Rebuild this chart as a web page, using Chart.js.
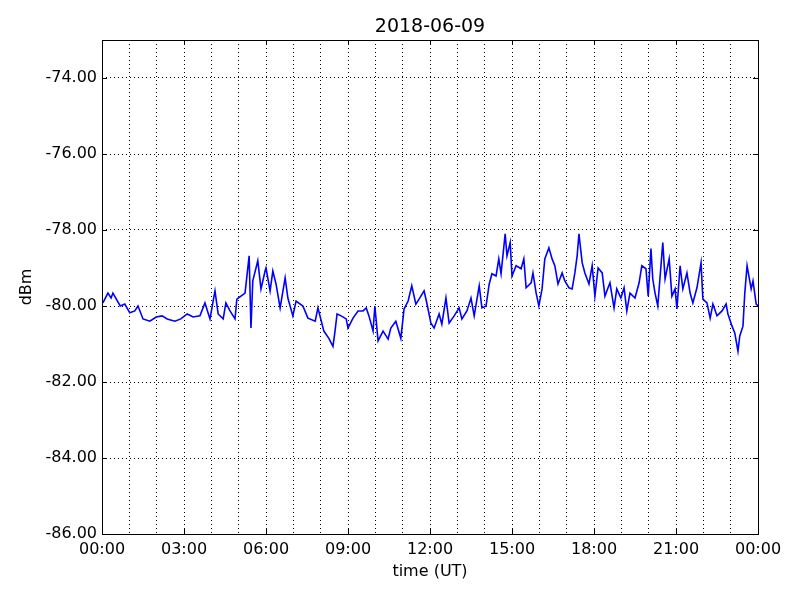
<!DOCTYPE html>
<html>
<head>
<meta charset="utf-8">
<script src="https://cdn.jsdelivr.net/npm/chart.js@4"></script>
<style>
  body { margin: 0; background: #fff; }
  canvas { display: block; }
</style>
</head>
<body>
<canvas id="signalChart" width="800" height="600"></canvas>
<script>
// values (minutes after 00:00 UT, dBm)
const chartTitle = '2018-06-09';
const minutes = [
  2, 13, 20, 24, 40, 50, 61, 72, 79, 90, 105, 119, 132, 143, 160, 173, 187, 200, 215, 226, 237,
  244, 248, 255, 266, 272, 281, 292, 296, 305, 314, 323, 327, 331, 342, 349, 358, 360, 369, 375,
  382, 391, 402, 408, 419, 426, 441, 452, 468, 474,
  487, 498, 507, 511, 516, 525, 536, 540, 551, 562, 573, 580, 586, 595, 599, 606, 617, 628, 634,
  645, 656, 663, 672, 680, 689, 696, 707,
  713, 722, 729, 740, 746, 755, 762, 773, 784, 790, 801, 810, 817, 828, 834, 843, 850, 856, 865,
  871, 876, 885, 889, 896, 900, 909, 920, 926, 931, 942, 946, 953,
  959, 966, 972, 977, 981, 988, 994, 1001, 1010, 1016, 1025, 1032, 1038, 1043, 1047, 1054, 1060,
  1069, 1076, 1082, 1089, 1098, 1104, 1115, 1124, 1130, 1139, 1146, 1152, 1159, 1170, 1179,
  1185, 1194, 1199, 1205, 1209, 1214, 1220, 1227, 1231, 1236, 1245, 1251, 1258, 1262, 1269, 1275,
  1284, 1291, 1297, 1306, 1315, 1319, 1328, 1335, 1341, 1350, 1361, 1370, 1374, 1383, 1389, 1396,
  1400, 1407, 1411, 1416, 1425, 1429, 1436, 1440
];
const dbm = [
  -79.92, -79.66, -79.79, -79.66, -80.00, -79.95, -80.18, -80.13, -80.00, -80.34, -80.40, -80.29,
  -80.26, -80.34, -80.40, -80.34, -80.21, -80.29, -80.26, -79.92, -80.34,
  -79.87, -79.60, -80.21, -80.34, -79.92, -80.13, -80.34, -79.82, -79.74, -79.66, -78.68, -80.58,
  -79.34, -78.81, -79.55, -79.08, -79.00, -79.60, -79.08, -79.42, -80.05, -79.26, -79.79, -80.26,
  -79.87, -80.00, -80.32, -80.40, -80.05,
  -80.66, -80.85, -81.06, -80.71, -80.21, -80.26, -80.34, -80.58, -80.32, -80.13, -80.13, -80.05,
  -80.26, -80.66, -80.00, -80.92, -80.66, -80.87, -80.58, -80.40, -80.85, -80.08, -79.87, -79.47,
  -79.95, -79.82, -79.60,
  -79.92, -80.45, -80.58, -80.21, -80.48, -79.79, -80.45, -80.26, -80.05, -80.34, -80.13, -79.79,
  -80.26, -79.47, -80.05, -80.00, -79.42, -79.15, -79.21, -78.76, -79.15, -78.10, -78.68, -78.33,
  -79.21, -78.94, -79.02, -78.76, -79.52, -79.39, -79.13, -79.66,
  -80.00, -79.55, -78.76, -78.60, -78.47, -78.76, -78.94, -79.42, -79.13, -79.34, -79.52, -79.55,
  -79.13, -78.68, -78.10, -78.86, -79.13, -79.42, -78.94, -79.74, -79.00, -79.13, -79.74, -79.39,
  -80.05, -79.55, -79.79, -79.52, -80.13, -79.66, -79.79, -79.39,
  -78.94, -79.02, -79.74, -78.49, -79.29, -79.66, -80.00, -78.94, -78.33, -79.29, -78.76, -79.74,
  -79.55, -80.08, -78.94, -79.55, -79.13, -79.66, -79.92, -79.52, -78.86, -79.82, -79.92, -80.32,
  -79.95, -80.26, -80.13, -79.95, -80.21, -80.53, -80.71, -81.19, -80.79, -80.53, -79.66, -78.94,
  -79.55, -79.34, -79.95, -80.00
];
const yTicks = [-86, -84, -82, -80, -78, -76, -74];

const FONT = 'DejaVu Sans';

function hhmm(m) {
  const h = Math.floor(m / 60) % 24;
  const mm = m % 60;
  return String(h).padStart(2, '0') + ':' + String(mm).padStart(2, '0');
}

// box, inward ticks and title in matplotlib "classic" look
const framePlugin = {
  id: 'frame',
  afterDraw(chart) {
    const { ctx, chartArea: a, scales } = chart;
    ctx.save();
    ctx.strokeStyle = '#000';
    ctx.lineWidth = 1;
    ctx.strokeRect(Math.round(a.left) + 0.5, Math.round(a.top) + 0.5,
      Math.round(a.right - a.left), Math.round(a.bottom - a.top));
    ctx.beginPath();
    yTicks.forEach(v => {
      const y = Math.round(scales.y.getPixelForValue(v)) + 0.5;
      ctx.moveTo(a.left, y); ctx.lineTo(a.left + 5, y);
      ctx.moveTo(a.right, y); ctx.lineTo(a.right - 5, y);
    });
    for (let m = 0; m <= 1440; m += 180) {
      const x = Math.round(scales.x.getPixelForValue(m)) + 0.5;
      ctx.moveTo(x, a.bottom); ctx.lineTo(x, a.bottom - 5);
      ctx.moveTo(x, a.top); ctx.lineTo(x, a.top + 5);
    }
    ctx.stroke();
    ctx.fillStyle = '#000';
    ctx.font = '19px "' + FONT + '"';
    ctx.textAlign = 'center';
    ctx.textBaseline = 'middle';
    ctx.fillText(chartTitle, (a.left + a.right) / 2, 27);
    ctx.restore();
  }
};

const points = minutes.map((m, i) => ({ x: m, y: dbm[i] }));

new Chart(document.getElementById('signalChart'), {
  type: 'line',
  data: {
    datasets: [{
      data: points,
      borderColor: '#0000ff',
      borderWidth: 1.6,
      pointRadius: 0,
      tension: 0,
      fill: false
    }]
  },
  options: {
    responsive: false,
    animation: false,
    layout: { padding: { top: 40, right: 42, left: 0, bottom: 0 } },
    plugins: { legend: { display: false }, tooltip: { enabled: false }, title: { display: false } },
    scales: {
      x: {
        type: 'linear',
        min: 0,
        max: 1440,
        afterFit(s) { s.height = 66; },
        grid: { color: '#000', lineWidth: 1, drawTicks: false },
        border: { display: false, dash: [1, 3] },
        ticks: {
          stepSize: 60,
          autoSkip: false,
          maxRotation: 0,
          padding: 6,
          color: '#000',
          font: { family: FONT, size: 16 },
          callback: v => (v % 180 === 0 ? hhmm(v) : '')
        },
        title: {
          display: true,
          text: 'time (UT)',
          color: '#000',
          font: { family: FONT, size: 16 },
          padding: { top: 0, bottom: 19 }
        }
      },
      y: {
        min: -86,
        max: -73,
        afterFit(s) { s.width = 102; },
        afterBuildTicks(s) { s.ticks = yTicks.map(v => ({ value: v })); },
        grid: { color: '#000', lineWidth: 1, drawTicks: false },
        border: { display: false, dash: [1, 3] },
        ticks: {
          padding: 5,
          color: '#000',
          font: { family: FONT, size: 16 },
          callback: v => v.toFixed(2)
        },
        title: {
          display: true,
          text: 'dBm',
          color: '#000',
          font: { family: FONT, size: 16 },
          padding: { top: 17, bottom: 0 }
        }
      }
    }
  },
  plugins: [framePlugin]
});
</script>
</body>
</html>
